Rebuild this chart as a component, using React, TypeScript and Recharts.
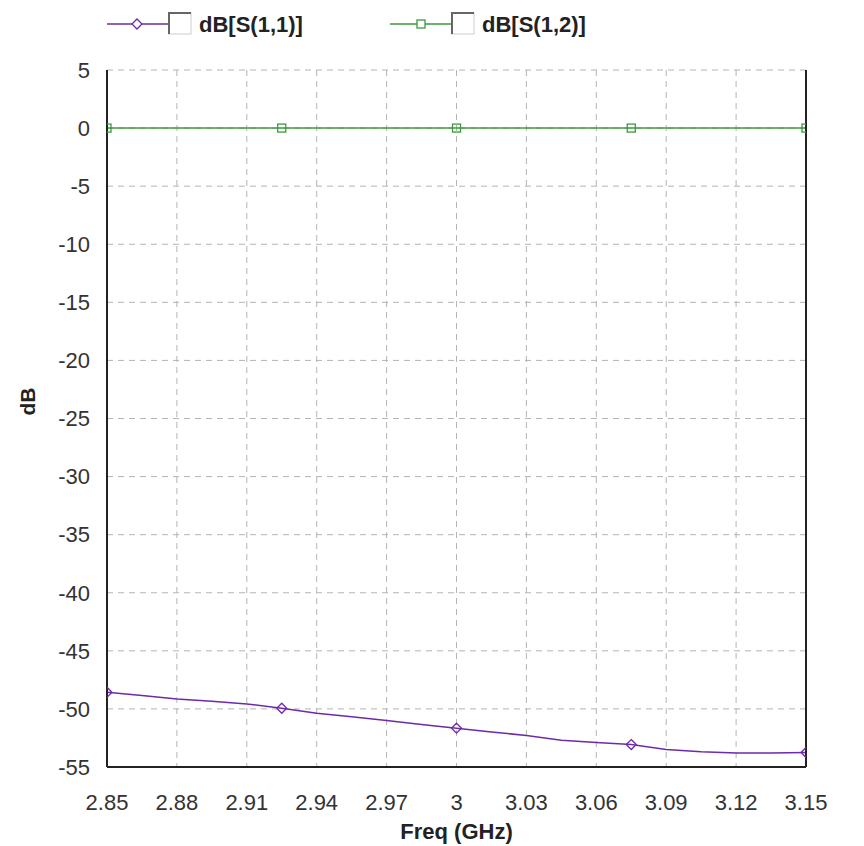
import React from "react";
import { ComposedChart, Line, XAxis, YAxis, CartesianGrid } from "recharts";

// S-parameter sweep, 2.85..3.15 GHz
const freqs = [
  2.85, 2.865, 2.88, 2.895, 2.91, 2.925, 2.94, 2.955, 2.97, 2.985, 3.0,
  3.015, 3.03, 3.045, 3.06, 3.075, 3.09, 3.105, 3.12, 3.135, 3.15,
];
const s11 = [
  -48.57, -48.85, -49.14, -49.35, -49.57, -49.94, -50.37, -50.68, -51.0, -51.35, -51.66,
  -51.98, -52.29, -52.69, -52.9, -53.07, -53.5, -53.69, -53.8, -53.8, -53.75,
];
const s12 = [
  0, 0, 0, 0, 0, 0, 0, 0, 0, 0, 0,
  0, 0, 0, 0, 0, 0, 0, 0, 0, 0,
];
const markerFreqs = [2.85, 2.925, 3.0, 3.075, 3.15];
const xTicks = [2.85, 2.88, 2.91, 2.94, 2.97, 3, 3.03, 3.06, 3.09, 3.12, 3.15];
const yTicks = [5, 0, -5, -10, -15, -20, -25, -30, -35, -40, -45, -50, -55];

const PURPLE = "#6e2aa8";
const GREEN = "#3c9a3c";
const FONT = "'Liberation Sans', Arial, sans-serif";

const rows = freqs.map((f, i) => ({ freq: f, s11: s11[i], s12: s12[i] }));

const isMarker = (f: number) => markerFreqs.some((m) => Math.abs(m - f) < 1e-6);

function DiamondDot(props: any) {
  const { cx, cy, payload } = props;
  if (!isMarker(payload.freq)) return null;
  const r = 5;
  return (
    <path
      d={`M${cx},${cy - r} L${cx + r},${cy} L${cx},${cy + r} L${cx - r},${cy} Z`}
      fill="none"
      stroke={PURPLE}
      strokeWidth={1.3}
    />
  );
}

function SquareDot(props: any) {
  const { cx, cy, payload } = props;
  if (!isMarker(payload.freq)) return null;
  return <rect x={cx - 4} y={cy - 4} width={8} height={8} fill="none" stroke={GREEN} strokeWidth={1.3} />;
}

const tickStyle = { fill: "#333", fontSize: 22, fontFamily: FONT };

function Legend() {
  const items = [
    { x: 107, label: "dB[S(1,1)]", color: PURPLE, kind: "diamond" },
    { x: 390, label: "dB[S(1,2)]", color: GREEN, kind: "square" },
  ];
  return (
    <svg width={864} height={50} style={{ position: "absolute", left: 0, top: 0 }}>
      {items.map((it) => (
        <g key={it.label}>
          <line x1={it.x} y1={24} x2={it.x + 61} y2={24} stroke={it.color} strokeWidth={1.5} />
          {it.kind === "diamond" ? (
            <path d={`M${it.x + 30},19 L${it.x + 35},24 L${it.x + 30},29 L${it.x + 25},24 Z`} fill="#fff" stroke={it.color} strokeWidth={1.3} />
          ) : (
            <rect x={it.x + 27} y={20} width={8} height={8} fill="#fff" stroke={it.color} strokeWidth={1.3} />
          )}
          <rect x={it.x + 62} y={13} width={22} height={21} fill="#fff" stroke="#ccc" strokeWidth={1} />
          <path d={`M${it.x + 62},34 L${it.x + 62},13 L${it.x + 84},13`} fill="none" stroke="#666" strokeWidth={2} />
          <text x={it.x + 92} y={32} fontFamily={FONT} fontWeight="bold" fontSize={22} fill="#222">
            {it.label}
          </text>
        </g>
      ))}
    </svg>
  );
}

export default function App() {
  return (
    <div style={{ position: "absolute", left: 0, top: 0, width: 864, height: 846, background: "#fff" }}>
      <ComposedChart width={864} height={846} data={rows} margin={{ top: 70, right: 0, bottom: 0, left: 0 }}>
        <CartesianGrid
          yAxisId="left"
          stroke="#b4b4b4"
          strokeDasharray="6 5"
          verticalValues={xTicks}
          horizontalValues={yTicks}
        />
        <XAxis
          dataKey="freq"
          type="number"
          domain={[2.85, 3.15]}
          ticks={xTicks}
          tickFormatter={(v) => String(v)}
          tick={tickStyle}
          tickLine={false}
          tickMargin={21}
          axisLine={{ stroke: "#222", strokeWidth: 2 }}
          height={79}
          interval={0}
          allowDataOverflow
          label={(p: any) => {
            const vb = p.viewBox;
            return (
              <text x={vb.x + vb.width / 2} y={vb.y + 72} textAnchor="middle" fontFamily={FONT} fontWeight="bold" fontSize={22} fill="#222">
                Freq (GHz)
              </text>
            );
          }}
        />
        <XAxis
          xAxisId="top"
          orientation="top"
          dataKey="freq"
          type="number"
          domain={[2.85, 3.15]}
          tick={false}
          tickLine={false}
          height={0}
          axisLine={{ stroke: "#222", strokeWidth: 2 }}
        />
        <YAxis
          yAxisId="left"
          type="number"
          domain={[-55, 5]}
          ticks={yTicks}
          interval={0}
          width={107}
          tick={tickStyle}
          tickLine={false}
          tickMargin={11}
          axisLine={{ stroke: "#222", strokeWidth: 2 }}
          label={(p: any) => {
            const vb = p.viewBox;
            const cx = 27;
            const cy = vb.y + vb.height / 2 - 17;
            return (
              <text x={cx} y={cy} transform={`rotate(-90 ${cx} ${cy})`} textAnchor="middle" dominantBaseline="central" fontFamily={FONT} fontWeight="bold" fontSize={21} fill="#222">
                dB
              </text>
            );
          }}
        />
        <YAxis
          yAxisId="right"
          orientation="right"
          type="number"
          domain={[-55, 5]}
          ticks={yTicks}
          interval={0}
          width={58}
          tick={{ ...tickStyle, textAnchor: "start" }}
          tickLine={false}
          tickMargin={11}
          axisLine={{ stroke: "#222", strokeWidth: 2 }}
        />
        <Line
          yAxisId="left"
          dataKey="s11"
          type="linear"
          stroke={PURPLE}
          strokeWidth={1.5}
          dot={<DiamondDot />}
          activeDot={false}
          isAnimationActive={false}
        />
        <Line
          yAxisId="left"
          dataKey="s12"
          type="linear"
          stroke={GREEN}
          strokeWidth={1.5}
          dot={<SquareDot />}
          activeDot={false}
          isAnimationActive={false}
        />
      </ComposedChart>
      <Legend />
    </div>
  );
}
